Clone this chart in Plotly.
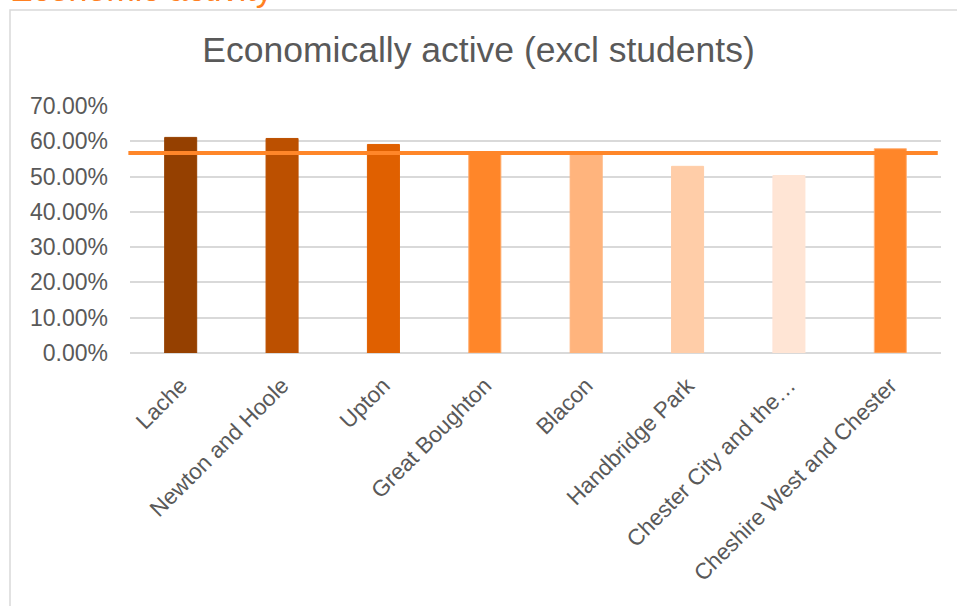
import plotly.graph_objects as go

categories = ["Lache", "Newton and Hoole", "Upton", "Great Boughton", "Blacon",
              "Handbridge Park", "Chester City and the…", "Cheshire West and Chester"]
values = [0.611, 0.608, 0.591, 0.568, 0.563, 0.529, 0.503, 0.579]
average_value = [0.567]
bar_colors = ["#954000", "#BC5000", "#E06000", "#FF8629", "#FFB47D",
              "#FFCDA8", "#FFE5D5", "#FF8629"]
bar_edge = ["#954000", "#BC5000", "#E06000", "#FFA968", "#FFB47D",
            "#FFCDA8", "#FFE5D5", "#FFB27A"]
tick_vals = [0, 0.1, 0.2, 0.3, 0.4, 0.5, 0.6, 0.7]
tick_text = ["0.00%", "10.00%", "20.00%", "30.00%", "40.00%", "50.00%", "60.00%", "70.00%"]

FONT = "Liberation Sans, Arial, sans-serif"
W, H = 957, 606
ML, MR, MT, MB = 130, 16, 106, 253
PH = H - MT - MB
PW = W - ML - MR


def px_to_paper_y(p):
    return (H - MB - p) / PH


def px_to_paper_x(p):
    return (p - ML) / PW


fig = go.Figure()
fig.add_trace(go.Bar(
    x=categories, y=values,
    marker=dict(color=bar_colors, line=dict(color=bar_edge, width=1)),
    showlegend=False, hoverinfo="skip",
))

fig.update_layout(
    width=W, height=H,
    margin=dict(l=ML, r=MR, t=MT, b=MB, pad=0),
    paper_bgcolor="white", plot_bgcolor="white",
    bargap=0.684,
    title=dict(text="Economically active (excl students)",
               font=dict(family=FONT, size=35.5, color="#595959"),
               x=0.5, xanchor="center", xref="container",
               y=1 - 37 / H, yanchor="top", yref="container"),
    xaxis=dict(tickangle=-45, tickfont=dict(family=FONT, size=22.5, color="#595959"),
               showgrid=False, showline=False, zeroline=False,
               ticks="", ticklabelstandoff=14),
    yaxis=dict(range=[0, 0.7], tickvals=tick_vals, ticktext=tick_text,
               tickfont=dict(family=FONT, size=23, color="#595959"),
               showgrid=True, gridcolor="#D9D9D9", gridwidth=1.5,
               zeroline=True, zerolinecolor="#D9D9D9", zerolinewidth=1.5,
               showline=False, ticks="", ticklabelstandoff=21),
    shapes=[
        dict(type="rect", xref="paper", yref="paper",
             x0=px_to_paper_x(10), x1=px_to_paper_x(1000),
             y0=px_to_paper_y(700), y1=px_to_paper_y(10),
             line=dict(color="#D9D9D9", width=1.5), fillcolor="rgba(0,0,0,0)",
             layer="below"),
        dict(type="line", xref="x domain", yref="y",
             x0=-0.002, x1=0.996, y0=average_value[0], y1=average_value[0],
             line=dict(color="#FF8629", width=4), layer="above"),
    ],
    annotations=[
        dict(text="Economic activity", xref="paper", yref="paper",
             x=px_to_paper_x(8), y=px_to_paper_y(10.5), xanchor="left", yanchor="bottom",
             showarrow=False, font=dict(family=FONT, size=34, color="#FF8021")),
    ],
)

fig.write_html("out.html",
               config={"displayModeBar": False},
               post_script="document.body.style.margin='0';document.body.style.padding='0';")
